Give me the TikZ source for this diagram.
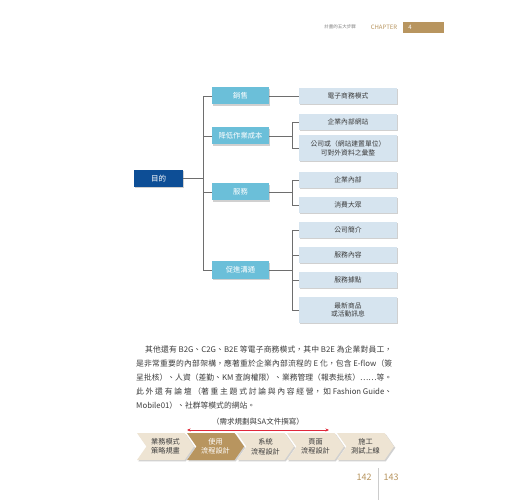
\documentclass[tikz,border=0pt]{standalone}
\usepackage{fontspec}
\setmainfont{Noto Sans CJK TC}
\usetikzlibrary{shadows,shapes.symbols,arrows.meta}
\XeTeXlinebreaklocale "zh"
\XeTeXlinebreakskip=0pt plus 1fil
\newcommand{\jline}[2]{\parbox{#1}{\parindent=0pt\parfillskip=0pt\leftskip=0pt\rightskip=0pt #2}}
\definecolor{goalblue}{HTML}{0D4E96}
\definecolor{midblue}{HTML}{6BBFD9}
\definecolor{leafblue}{HTML}{D6E4EF}
\definecolor{linegray}{HTML}{6E6E6E}
\definecolor{gold}{HTML}{B8955F}
\definecolor{beige}{HTML}{EEE4D3}
\definecolor{txt}{HTML}{3C3C3C}
\definecolor{arrowred}{HTML}{E0283A}
\tikzset{
 shd/.style={drop shadow={shadow xshift=1.3pt,shadow yshift=-1.3pt,fill=black!30,opacity=0.6}},
 goalbox/.style={shd, fill=goalblue, text=white, minimum width=49pt, minimum height=17pt, inner sep=0pt, font=\fontsize{7.5}{9}\selectfont},
 midbox/.style={shd, fill=midblue, text=white, minimum width=57pt, minimum height=17pt, inner sep=0pt, font=\fontsize{7.3}{9}\selectfont},
 leafbox/.style={shd, fill=leafblue, text=txt, minimum width=98pt, minimum height=16pt, inner sep=0pt, align=center, font=\fontsize{6.8}{8.8}\selectfont},
 conn/.style={draw=linegray, line width=0.9pt},
 chev/.style={shd, signal, signal to=east, signal from=west, signal pointer angle=110, minimum width=57pt, minimum height=27pt, inner sep=0pt, align=center, fill=beige, text=txt, font=\fontsize{7.2}{9.5}\selectfont},
 para/.style={anchor=west, inner sep=0pt, text=txt, font=\fontsize{7.8}{10}\selectfont},
}
\begin{document}
\begin{tikzpicture}[x=1pt,y=-1pt]
\useasboundingbox[fill=white] (0,0) rectangle (520,500);
% header
\node[text=gray, font=\fontsize{4.5}{5}\selectfont, inner sep=0pt] (hd) at (340,27) {計畫的五大步驟};
\node[text=gold, font=\fontsize{6}{7}\selectfont, inner sep=0pt] (chap) at (384,27) {CHAPTER};
\node[fill=gold, minimum width=41pt, minimum height=11pt, inner sep=0pt] (chapbox) at (423.5,27.5) {};
\node[text=white, font=\fontsize{6}{7}\selectfont, inner sep=0pt] (chapnum) at (410,27.5) {4};
% tree
\node[goalbox] (goal) at (158.5,178.5) {目的};
\node[midbox] (m1) at (240.5,96) {銷售};
\node[midbox] (m2) at (240.5,136) {降低作業成本};
\node[midbox] (m3) at (240.5,192) {服務};
\node[midbox] (m4) at (240.5,270) {促進溝通};
\node[leafbox] (l1) at (348,96) {電子商務模式};
\node[leafbox] (l2) at (348,122) {企業內部網站};
\node[leafbox, minimum height=26pt] (l3) at (348,148) {公司或（網站建置單位）\\可對外資料之彙整};
\node[leafbox] (l4) at (348,180) {企業內部};
\node[leafbox] (l5) at (348,205) {消費大眾};
\node[leafbox] (l6) at (348,230) {公司簡介};
\node[leafbox] (l7) at (348,255) {服務內容};
\node[leafbox] (l8) at (348,280) {服務據點};
\node[leafbox, minimum height=26pt] (l9) at (348,310) {最新商品\\或活動訊息};
\coordinate (tr) at (203,178.5);
\draw[conn] (goal.east) -- (tr);
\foreach \m in {m1,m2,m3,m4} \draw[conn] (tr) |- (\m.west);
\draw[conn] (m1.east) -- (l1.west);
\draw[conn] (m2.east) -- ++(23,0) coordinate (b2);
\draw[conn] (b2) |- (l2.west); \draw[conn] (b2) |- (l3.west);
\draw[conn] (m3.east) -- ++(23,0) coordinate (b3);
\draw[conn] (b3) |- (l4.west); \draw[conn] (b3) |- (l5.west);
\draw[conn] (m4.east) -- ++(23,0) coordinate (b4);
\foreach \l in {l6,l7,l8,l9} \draw[conn] (b4) |- (\l.west);
% paragraph
\node[para] (p1) at (145,350) {\jline{247pt}{其他還有 B2G、C2G、B2E 等電子商務模式，其中 B2E 為企業對員工，}};
\node[para] (p2) at (136,364) {\jline{256pt}{是非常重要的內部架構，應著重於企業內部流程的 E 化，包含 E-flow（簽}};
\node[para] (p3) at (136,378) {\jline{256pt}{呈批核）、人資（差勤、KM 查詢權限）、業務管理（報表批核）……等。}};
\node[para] (p4) at (136,392) {\jline{256pt}{此外還有論壇（著重主題式討論與內容經營，如 Fashion Guide、}};
\node[para] (p5) at (136,406) {Mobile01）、社群等模式的網站。};
% process
\node[text=txt, font=\fontsize{7.5}{9}\selectfont, inner sep=0pt] (sa) at (258,422) {（需求規劃與SA文件撰寫）};
\node[chev] (c1) at (165.5,446.5) {業務模式\\策略規畫};
\node[chev, fill=gold, text=white] (c2) at (215.5,446.5) {使用\\流程設計};
\node[chev] (c3) at (265.5,446.5) {系統\\流程設計};
\node[chev] (c4) at (315.5,446.5) {頁面\\流程設計};
\node[chev] (c5) at (365.5,446.5) {施工\\測試上線};
\coordinate (ra) at (187,430);
\coordinate (rb) at (329,430);
\draw[arrowred, line width=0.9pt, {Stealth[length=3.5pt,width=3pt]}-{Stealth[length=3.5pt,width=3pt]}] (ra) -- (rb);
% page numbers
\node[text=gold, font=\fontsize{9}{10}\selectfont, inner sep=0pt] (pg1) at (364,477) {142};
\node[text=gold, font=\fontsize{9}{10}\selectfont, inner sep=0pt] (pg2) at (391,477) {143};
\coordinate (d1) at (378,468);
\coordinate (d2) at (378,500);
\draw[black!20, line width=0.6pt] (d1) -- (d2);
\end{tikzpicture}
\end{document}
